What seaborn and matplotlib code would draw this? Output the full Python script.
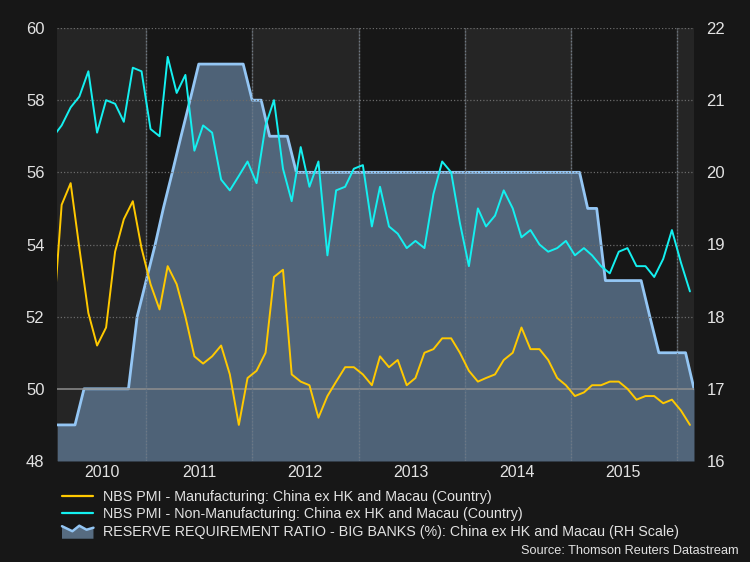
import numpy as np
import pandas as pd
import matplotlib
matplotlib.use("Agg")
import matplotlib.pyplot as plt
import seaborn as sns
from matplotlib.lines import Line2D
from matplotlib.patches import Polygon, Patch
from matplotlib.legend_handler import HandlerBase

# ---------------- data (monthly, Feb 2010 .. Feb 2016) ----------------
start_month = "2010-02-01"
n_months = 73

pmi_manufacturing = [
    52.0, 55.1, 55.7, 53.9, 52.1, 51.2, 51.7, 53.8, 54.7, 55.2, 53.9,
    52.9, 52.2, 53.4, 52.9, 52.0, 50.9, 50.7, 50.9, 51.2, 50.4, 49.0, 50.3,
    50.5, 51.0, 53.1, 53.3, 50.4, 50.2, 50.1, 49.2, 49.8, 50.2, 50.6, 50.6,
    50.4, 50.1, 50.9, 50.6, 50.8, 50.1, 50.3, 51.0, 51.1, 51.4, 51.4, 51.0,
    50.5, 50.2, 50.3, 50.4, 50.8, 51.0, 51.7, 51.1, 51.1, 50.8, 50.3, 50.1,
    49.8, 49.9, 50.1, 50.1, 50.2, 50.2, 50.0, 49.7, 49.8, 49.8, 49.6, 49.7,
    49.4, 49.0,
]
pmi_non_manufacturing = [
    57.0, 57.3, 57.8, 58.1, 58.8, 57.1, 58.0, 57.9, 57.4, 58.9, 58.8,
    57.2, 57.0, 59.2, 58.2, 58.7, 56.6, 57.3, 57.1, 55.8, 55.5, 55.9, 56.3,
    55.7, 57.3, 58.0, 56.1, 55.2, 56.7, 55.6, 56.3, 53.7, 55.5, 55.6, 56.1,
    56.2, 54.5, 55.6, 54.5, 54.3, 53.9, 54.1, 53.9, 55.4, 56.3, 56.0, 54.6,
    53.4, 55.0, 54.5, 54.8, 55.5, 55.0, 54.2, 54.4, 54.0, 53.8, 53.9, 54.1,
    53.7, 53.9, 53.7, 53.4, 53.2, 53.8, 53.9, 53.4, 53.4, 53.1, 53.6, 54.4,
    53.5, 52.7,
]
reserve_ratio = [
    16.5, 16.5, 16.5, 17.0, 17.0, 17.0, 17.0, 17.0, 17.0, 18.0, 18.5,
    19.0, 19.5, 20.0, 20.5, 21.0, 21.5, 21.5, 21.5, 21.5, 21.5, 21.5, 21.0,
    21.0, 20.5, 20.5, 20.5, 20.0, 20.0, 20.0, 20.0, 20.0, 20.0, 20.0, 20.0,
    20.0, 20.0, 20.0, 20.0, 20.0, 20.0, 20.0, 20.0, 20.0, 20.0, 20.0, 20.0,
    20.0, 20.0, 20.0, 20.0, 20.0, 20.0, 20.0, 20.0, 20.0, 20.0, 20.0, 20.0,
    20.0, 19.5, 19.5, 18.5, 18.5, 18.5, 18.5, 18.5, 18.0, 17.5, 17.5, 17.5,
    17.5, 17.0,
]
years = ["2010", "2011", "2012", "2013", "2014", "2015"]
left_ticks = [48, 50, 52, 54, 56, 58, 60]
right_ticks = [16, 17, 18, 19, 20, 21, 22]
labels = [
    "NBS PMI - Manufacturing: China ex HK and Macau (Country)",
    "NBS PMI - Non-Manufacturing: China ex HK and Macau (Country)",
    "RESERVE REQUIREMENT RATIO - BIG BANKS (%): China ex HK and Macau (RH Scale)",
]
source_text = "Source: Thomson Reuters Datastream"

months = pd.date_range(start_month, periods=n_months, freq="MS")
pmi = pd.DataFrame({
    "date": months + pd.Timedelta(days=14),
    "mfg": pmi_manufacturing,
    "nonmfg": pmi_non_manufacturing,
})
rrr = pd.DataFrame({"date": months + pd.offsets.MonthEnd(0), "rrr": reserve_ratio})

# ---------------- style ----------------
BG = "#171717"
BAND = "#252525"
YELLOW = "#ffc900"
CYAN = "#14f0f0"
EDGE = "#94c6f4"
FILL = "#5e7893"
TXT = "#e2e2e2"

sns.set_theme(style="dark", rc={"axes.facecolor": BG, "figure.facecolor": BG})
plt.rcParams["font.family"] = ["Liberation Sans", "DejaVu Sans"]

fig = plt.figure(figsize=(7.5, 5.62), dpi=100)
fig.patch.set_facecolor(BG)
W, H = 750, 562
x0, x1, y0, y1 = 57, 694, 28, 461
axr = fig.add_axes([x0 / W, 1 - y1 / H, (x1 - x0) / W, (y1 - y0) / H])
axl = axr.twinx()

xmin = pd.Timestamp("2010-02-27")
xmax = pd.Timestamp("2016-02-29")
year_starts = [pd.Timestamp(f"{y}-01-01") for y in range(2011, 2017)]

# background bands & solid vertical lines (behind the area)
edges = [xmin] + year_starts + [xmax]
for k in range(len(edges) - 1):
    if k % 2 == 0:
        axr.axvspan(edges[k], edges[k + 1], color=BAND, lw=0, zorder=0)
for ys in year_starts:
    axr.axvline(ys, color="#4a4a4a", lw=1.0, zorder=0.5)

# reserve requirement ratio area
axr.fill_between(rrr["date"], rrr["rrr"], 16, color=FILL, alpha=0.78, lw=0, zorder=1)
sns.lineplot(data=rrr, x="date", y="rrr", ax=axr, color=EDGE, lw=2.0, zorder=2)
axr.set_ylim(16, 22)
axr.set_yticks(right_ticks)

# dotted gridlines in front
for v in left_ticks:
    if v == 50:
        axl.axhline(v, color="#8e8e8e", lw=1.1, zorder=2)
    else:
        axl.axhline(v, color="#6a6a6a", lw=0.9, ls=(0, (1, 1.6)), zorder=2)
for ys in year_starts:
    axl.axvline(ys, color="#6d7884", lw=0.9, ls=(0, (1, 1.6)), zorder=2)

sns.lineplot(data=pmi, x="date", y="mfg", ax=axl, color=YELLOW, lw=1.4, zorder=4)
sns.lineplot(data=pmi, x="date", y="nonmfg", ax=axl, color=CYAN, lw=1.4, zorder=4)
axl.set_ylim(48, 60)
axl.set_yticks(left_ticks)

axr.set_xlim(xmin, xmax)

# x labels centred in each visible year
xnum = [matplotlib.dates.date2num(d) for d in edges]
centers = []
for k in range(len(years)):
    if k == 0:
        centers.append((xnum[0] + xnum[1]) / 2)
    else:
        centers.append(matplotlib.dates.date2num(pd.Timestamp(f"{years[k]}-07-01")))
axr.set_xticks(centers)
axr.set_xticklabels(years)

axr.yaxis.tick_right()
axl.yaxis.tick_left()
for a in (axr, axl):
    a.set_xlabel("")
    a.set_ylabel("")
    a.grid(False)
    for s in a.spines.values():
        s.set_visible(False)
    a.tick_params(length=0, colors=TXT, labelsize=12)
axr.tick_params(axis="y", pad=9)
axl.tick_params(axis="y", pad=9)
axr.tick_params(axis="x", pad=3, labelsize=11.5)
axl.patch.set_visible(False)

# legend
class AreaHandler(HandlerBase):
    def create_artists(self, legend, orig_handle, xdescent, ydescent,
                       width, height, fontsize, trans):
        fx = np.array([0.0, 0.33, 0.55, 0.78, 1.0])
        fy = np.array([0.95, 0.45, 1.0, 0.6, 0.8])
        base = -ydescent - 0.3 * height
        xs = fx * width - xdescent
        ys = fy * height - ydescent
        pts = list(zip(xs, ys)) + [(width - xdescent, base), (-xdescent, base)]
        poly = Polygon(pts, closed=True, fc="#566b80", ec="none", transform=trans)
        line = Line2D(xs, ys, color=EDGE, lw=1.8, transform=trans)
        return [poly, line]

handles = [
    Line2D([], [], color=YELLOW, lw=1.6),
    Line2D([], [], color=CYAN, lw=1.6),
    Patch(),
]
fig.legend(handles, labels, loc="upper left",
           bbox_to_anchor=(62 / W, 1 - 490 / H), frameon=False,
           fontsize=10.3, labelcolor=TXT, handlelength=2.2,
           handletextpad=0.65, labelspacing=0.235, borderpad=0,
           borderaxespad=0,
           handler_map={Patch: AreaHandler()})

fig.text(739 / W, 1 - 551 / H, source_text, ha="right", va="center",
         color=TXT, fontsize=9.2)

fig.savefig("out.png", dpi=100, facecolor=BG)
